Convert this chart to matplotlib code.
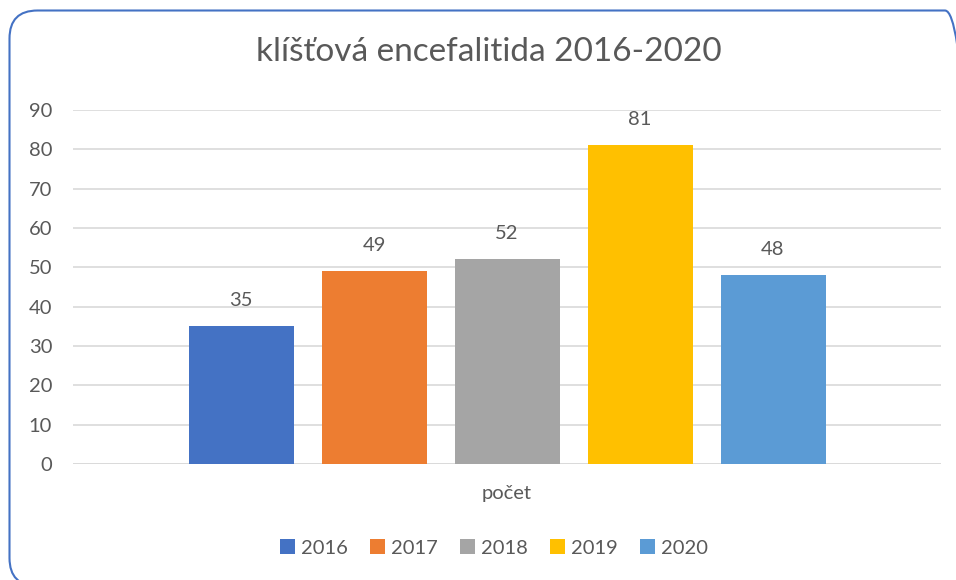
import matplotlib
matplotlib.use("Agg")
import matplotlib.pyplot as plt
from matplotlib.patches import FancyBboxPatch
from matplotlib.transforms import IdentityTransform

category = "počet"
years = ["2016", "2017", "2018", "2019", "2020"]
counts = [35, 49, 52, 81, 48]
colors = ["#4472C4", "#ED7D31", "#A5A5A5", "#FFC000", "#5B9BD5"]
title = "klíšťová encefalitida 2016-2020"
yticks = [0, 10, 20, 30, 40, 50, 60, 70, 80, 90]

plt.rcParams["font.family"] = ["Lato", "DejaVu Sans"]
text_color = "#595959"

fig = plt.figure(figsize=(9.56, 5.8), dpi=100)
ax = fig.add_axes([73 / 956, 116 / 580, 868 / 956, 354 / 580])

step = 133 / 868
width = 105 / 868
for i, (yr, val, col) in enumerate(zip(years, counts, colors)):
    x = (i - 2) * step
    ax.bar(x, val, width=width, color=col, label=yr, zorder=3)
    ax.annotate(str(val), (x, val), xytext=(0, 18.5), textcoords="offset points",
                ha="center", va="center", fontsize=14.5, color=text_color)

ax.set_xlim(-0.5, 0.5)
ax.set_ylim(0, 90)
ax.set_yticks(yticks)
ax.set_xticks([])
ax.grid(axis="y", color="#D9D9D9", linewidth=1.2, zorder=0)
ax.axhline(0, color="#D9D9D9", linewidth=1.2, zorder=1)
for s in ax.spines.values():
    s.set_visible(False)
ax.tick_params(axis="y", length=0, pad=15, labelsize=14.5, labelcolor=text_color)

fig.text(507 / 956, 1 - 494 / 580, category, ha="center", va="center",
         fontsize=14.5, color=text_color)
fig.text(489 / 956, 1 - 52 / 580, title, ha="center", va="center",
         fontsize=24, color=text_color)

fig.legend(loc="center", bbox_to_anchor=(494 / 956, 1 - 548 / 580), ncol=5,
           frameon=False, fontsize=14.5, handlelength=0.75, handleheight=0.75,
           handletextpad=0.3, columnspacing=1.1, labelcolor=text_color)

border = FancyBboxPatch((9.5, -6), 963.5, 580 - 10.5 + 6,
                        boxstyle="round,pad=0,rounding_size=28",
                        transform=IdentityTransform(), fill=False,
                        edgecolor="#4472C4", linewidth=1.5)
fig.patches.append(border)

fig.savefig("out.png", dpi=100)
